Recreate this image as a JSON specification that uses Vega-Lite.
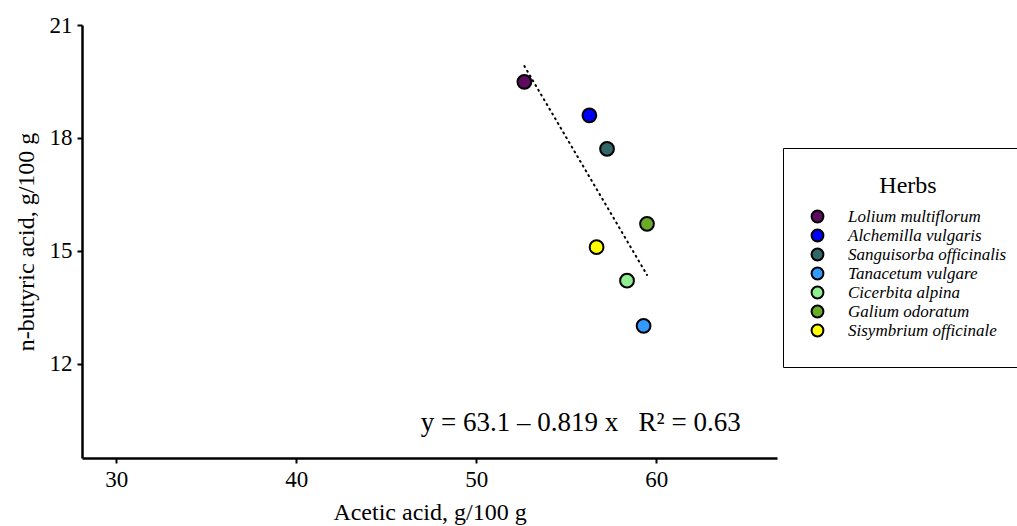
{
  "$schema": "https://vega.github.io/schema/vega-lite/v6.json",
  "width": 695,
  "height": 433,
  "autosize": {"type": "none"},
  "padding": {"left": 82, "top": 25, "right": 240, "bottom": 68},
  "background": "white",
  "config": {
    "view": {"stroke": null},
    "font": "Liberation Serif",
    "axis": {
      "grid": false,
      "domainColor": "black",
      "domainWidth": 2.5,
      "tickColor": "black",
      "tickWidth": 2,
      "tickSize": 5,
      "labelFont": "Liberation Serif",
      "labelFontSize": 23,
      "labelColor": "black",
      "titleFont": "Liberation Serif",
      "titleFontSize": 24,
      "titleFontWeight": "normal",
      "titleColor": "black"
    },
    "legend": {
      "orient": "none",
      "legendX": 701,
      "legendY": 123,
      "strokeColor": "black",
      "fillColor": "white",
      "padding": 26,
      "titleFont": "Liberation Serif",
      "titleFontSize": 24,
      "titleFontWeight": "normal",
      "titleColor": "black",
      "titleAnchor": "middle",
      "titlePadding": 10,
      "labelFont": "Liberation Serif",
      "labelFontStyle": "italic",
      "labelFontSize": 17,
      "labelColor": "black",
      "labelOffset": 22,
      "labelLimit": 300,
      "symbolType": "circle",
      "symbolSize": 140,
      "symbolStrokeColor": "black",
      "symbolStrokeWidth": 2,
      "rowPadding": -3
    }
  },
  "datasets": {
    "herbs": [
      {"herb": "Lolium multiflorum", "acetic": 52.67, "butyric": 19.49},
      {"herb": "Alchemilla vulgaris", "acetic": 56.28, "butyric": 18.6},
      {"herb": "Sanguisorba officinalis", "acetic": 57.26, "butyric": 17.71},
      {"herb": "Tanacetum vulgare", "acetic": 59.29, "butyric": 13.01},
      {"herb": "Cicerbita alpina", "acetic": 58.37, "butyric": 14.21},
      {"herb": "Galium odoratum", "acetic": 59.48, "butyric": 15.72},
      {"herb": "Sisymbrium officinale", "acetic": 56.68, "butyric": 15.1}
    ],
    "note": [
      {"acetic": 55.8, "butyric": 10.43, "label": "y = 63.1 – 0.819 x\u00a0\u00a0\u00a0R² = 0.63"}
    ]
  },
  "layer": [
    {
      "data": {"name": "herbs"},
      "transform": [{"regression": "butyric", "on": "acetic"}],
      "mark": {"type": "line", "color": "black", "strokeWidth": 2, "strokeDash": [1, 4.5], "strokeCap": "round"},
      "encoding": {
        "x": {"field": "acetic", "type": "quantitative", "scale": {"domain": [28.1, 66.7], "nice": false, "zero": false}},
        "y": {"field": "butyric", "type": "quantitative", "scale": {"domain": [9.5, 21], "nice": false, "zero": false}}
      }
    },
    {
      "data": {"name": "herbs"},
      "mark": {"type": "point", "filled": true, "shape": "circle", "size": 190, "stroke": "black", "strokeWidth": 2, "opacity": 1},
      "encoding": {
        "x": {"field": "acetic", "type": "quantitative", "scale": {"domain": [28.1, 66.7], "nice": false, "zero": false},
              "axis": {"values": [30, 40, 50, 60], "title": "Acetic acid, g/100 g", "titlePadding": 9, "labelPadding": 5}},
        "y": {"field": "butyric", "type": "quantitative", "scale": {"domain": [9.5, 21], "nice": false, "zero": false},
              "axis": {"values": [12, 15, 18, 21], "title": "n-butyric acid, g/100 g", "titlePadding": 11, "labelPadding": 5}},
        "fill": {
          "field": "herb", "type": "nominal", "title": "Herbs",
          "scale": {
            "domain": ["Lolium multiflorum", "Alchemilla vulgaris", "Sanguisorba officinalis", "Tanacetum vulgare", "Cicerbita alpina", "Galium odoratum", "Sisymbrium officinale"],
            "range": ["#5E0B5E", "#0000FF", "#336666", "#3399FF", "#90EE90", "#6AAB2A", "#FFFF00"]
          }
        }
      }
    },
    {
      "data": {"name": "note"},
      "mark": {"type": "text", "font": "Liberation Serif", "fontSize": 27, "color": "black", "align": "center", "baseline": "middle"},
      "encoding": {
        "x": {"field": "acetic", "type": "quantitative"},
        "y": {"field": "butyric", "type": "quantitative"},
        "text": {"field": "label"}
      }
    }
  ]
}
